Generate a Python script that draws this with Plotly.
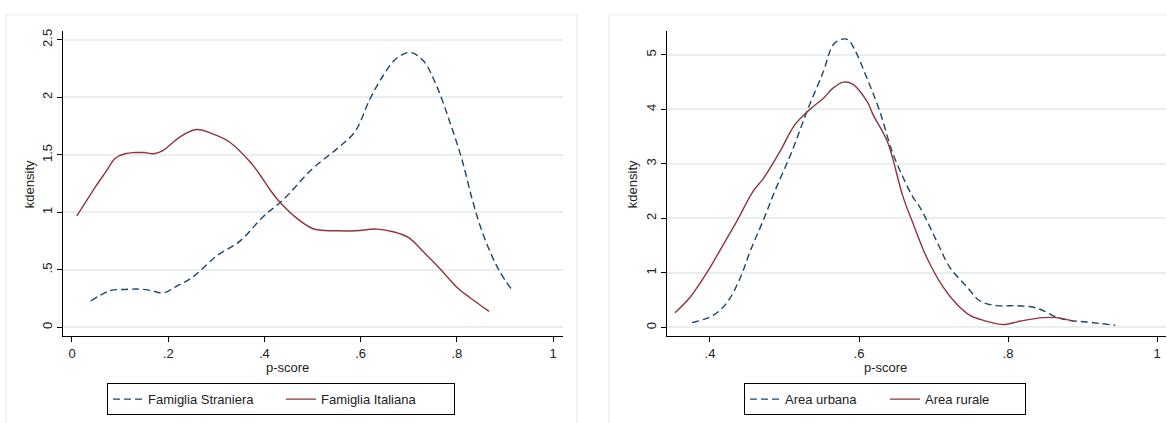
import plotly.graph_objects as go

# Kernel density of the propensity score, by group
# Left panel: family origin
stran_x = [0.039, 0.079, 0.11, 0.141, 0.165, 0.19, 0.218, 0.245, 0.266, 0.30, 0.349, 0.398, 0.439,
           0.50, 0.55, 0.588, 0.62, 0.647, 0.675, 0.703, 0.73, 0.758, 0.786, 0.81, 0.831, 0.848,
           0.869, 0.89, 0.914]
stran_y = [0.23, 0.32, 0.33, 0.333, 0.32, 0.30, 0.36, 0.42, 0.49, 0.62, 0.75, 0.965, 1.11,
           1.38, 1.55, 1.70, 1.99, 2.19, 2.34, 2.39, 2.32, 2.10, 1.78, 1.47, 1.13, 0.89,
           0.66, 0.48, 0.33]

ital_x = [0.01, 0.03, 0.05, 0.07, 0.09, 0.11, 0.13, 0.15, 0.17, 0.19, 0.205, 0.224, 0.259,
          0.294, 0.328, 0.37, 0.391, 0.412, 0.432, 0.467, 0.50, 0.52, 0.55, 0.59, 0.634, 0.67,
          0.70, 0.73, 0.765, 0.80, 0.827, 0.867]
ital_y = [0.97, 1.10, 1.23, 1.35, 1.47, 1.51, 1.52, 1.52, 1.51, 1.54, 1.59, 1.655, 1.72,
          1.68, 1.61, 1.44, 1.325, 1.195, 1.09, 0.95, 0.86, 0.845, 0.84, 0.84, 0.855, 0.83,
          0.78, 0.66, 0.51, 0.35, 0.26, 0.14]

# Right panel: area of residence
urb_x = [0.376, 0.404, 0.423, 0.44, 0.454, 0.471, 0.487, 0.51, 0.530, 0.552, 0.565, 0.575,
         0.585, 0.594, 0.611, 0.628, 0.646, 0.672, 0.682, 0.704, 0.722, 0.745, 0.762, 0.785,
         0.812, 0.834, 0.847, 0.865, 0.883, 0.906, 0.944]
urb_y = [0.09, 0.22, 0.46, 0.89, 1.40, 1.95, 2.5, 3.23, 3.96, 4.69, 5.18, 5.28,
         5.28, 5.10, 4.56, 3.96, 3.17, 2.40, 2.20, 1.59, 1.10, 0.74, 0.49, 0.40,
         0.40, 0.37, 0.31, 0.19, 0.13, 0.10, 0.04]

rur_x = [0.353, 0.373, 0.396, 0.413, 0.436, 0.458, 0.472, 0.494, 0.514, 0.534, 0.552, 0.565,
         0.579, 0.592, 0.611, 0.619, 0.638, 0.659, 0.673, 0.691, 0.713, 0.731, 0.749, 0.767,
         0.794, 0.816, 0.847, 0.865, 0.888]
rur_y = [0.27, 0.55, 1.01, 1.405, 1.95, 2.5, 2.74, 3.23, 3.72, 4.0, 4.2, 4.39,
         4.50, 4.46, 4.14, 3.90, 3.41, 2.40, 1.89, 1.28, 0.74, 0.43, 0.22, 0.13,
         0.055, 0.115, 0.18, 0.18, 0.115]

left_xticks = [0, 0.2, 0.4, 0.6, 0.8, 1]
left_xlabels = ["0", ".2", ".4", ".6", ".8", "1"]
left_yticks = [0, 0.5, 1, 1.5, 2, 2.5]
left_ylabels = ["0", ".5", "1", "1.5", "2", "2.5"]
right_xticks = [0.4, 0.6, 0.8, 1]
right_xlabels = [".4", ".6", ".8", "1"]
right_yticks = [0, 1, 2, 3, 4, 5]
right_ylabels = ["0", "1", "2", "3", "4", "5"]

W, H = 1167, 423
BLUE = "#1a476f"
RED = "#90353b"
GRID = "#e9eff1"
FONT = "Liberation Sans, Arial, sans-serif"
DASH = "7px,4px"


def px_x(p):
    return p / W


def px_y(p):
    return (H - p) / H


fig = go.Figure()

fig.add_trace(go.Scatter(x=stran_x, y=stran_y, mode="lines", name="Famiglia Straniera",
                         line=dict(color=BLUE, width=1.4, dash=DASH, shape="spline"),
                         xaxis="x", yaxis="y", legend="legend"))
fig.add_trace(go.Scatter(x=ital_x, y=ital_y, mode="lines", name="Famiglia Italiana",
                         line=dict(color=RED, width=1.4, shape="spline"),
                         xaxis="x", yaxis="y", legend="legend"))
fig.add_trace(go.Scatter(x=urb_x, y=urb_y, mode="lines", name="Area urbana",
                         line=dict(color=BLUE, width=1.4, dash=DASH, shape="spline"),
                         xaxis="x2", yaxis="y2", legend="legend2"))
fig.add_trace(go.Scatter(x=rur_x, y=rur_y, mode="lines", name="Area rurale",
                         line=dict(color=RED, width=1.4, shape="spline"),
                         xaxis="x2", yaxis="y2", legend="legend2"))

ydom = [px_y(336), px_y(29)]
common_x = dict(showgrid=False, zeroline=False, showline=True, linecolor="#000", linewidth=1,
                ticks="outside", ticklen=5, tickcolor="#000",
                tickfont=dict(family=FONT, size=13, color="#222"))
common_y = dict(showgrid=True, gridcolor=GRID, gridwidth=1.5, zeroline=False, showline=True,
                linecolor="#000", linewidth=1, ticks="outside", ticklen=5, tickcolor="#000",
                tickangle=-90, tickfont=dict(family=FONT, size=13, color="#222"))

legend_common = dict(orientation="h", yanchor="top", y=px_y(383), xanchor="center",
                     bordercolor="#000", borderwidth=1, bgcolor="white",
                     font=dict(family=FONT, size=13, color="#222"),
                     entrywidthmode="pixels")

fig.update_layout(
    width=W, height=H, autosize=False,
    margin=dict(l=0, r=0, t=0, b=0),
    paper_bgcolor="white", plot_bgcolor="white",
    font=dict(family=FONT, size=13, color="#222"),
    xaxis=dict(domain=[px_x(63), px_x(563)], range=[-0.0187, 1.0208], anchor="y",
               tickvals=left_xticks, ticktext=left_xlabels, **common_x),
    yaxis=dict(domain=ydom, range=[-0.078, 2.578], anchor="x",
               tickvals=left_yticks, ticktext=left_ylabels, **common_y),
    xaxis2=dict(domain=[px_x(667), px_x(1166)], range=[0.3423, 1.012], anchor="y2",
                tickvals=right_xticks, ticktext=right_xlabels, **common_x),
    yaxis2=dict(domain=ydom, range=[-0.164, 5.44], anchor="x2",
                tickvals=right_yticks, ticktext=right_ylabels, **common_y),
    legend=dict(x=px_x(281), entrywidth=128, **legend_common),
    legend2=dict(x=px_x(885), entrywidth=95, **legend_common),
    showlegend=True,
)

# Graph-region frames
fig.add_shape(type="rect", xref="paper", yref="paper", x0=px_x(6), x1=px_x(577),
              y0=-0.1, y1=px_y(13), line=dict(color="#e4e9ec", width=1), layer="below")
fig.add_shape(type="rect", xref="paper", yref="paper", x0=px_x(609), x1=1.1,
              y0=-0.1, y1=px_y(13), line=dict(color="#e4e9ec", width=1), layer="below")

# Axis titles
for xc, yc in [(287, 367), (885, 367)]:
    fig.add_annotation(text="p-score", xref="paper", yref="paper", x=px_x(xc), y=px_y(yc),
                       xanchor="center", yanchor="middle", showarrow=False,
                       font=dict(family=FONT, size=13, color="#222"))
for xc in [29, 632]:
    fig.add_annotation(text="kdensity", xref="paper", yref="paper", x=px_x(xc), y=px_y(183),
                       xanchor="center", yanchor="middle", showarrow=False, textangle=-90,
                       font=dict(family=FONT, size=13, color="#222"))

fig.write_html("out.html")
